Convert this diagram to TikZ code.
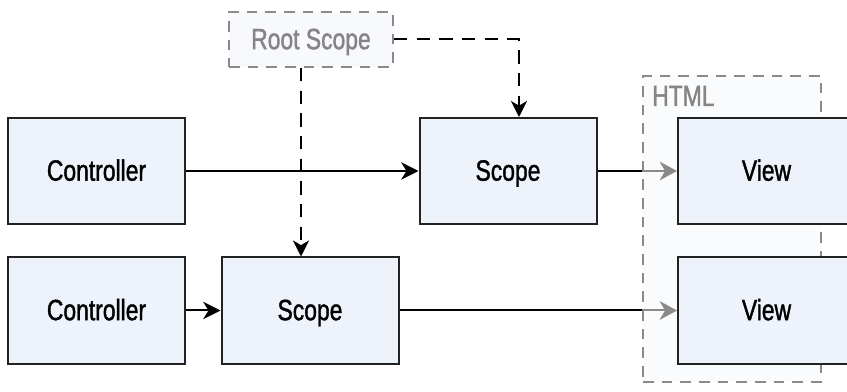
\documentclass[tikz,border=0pt]{standalone}
\usepackage{fontspec}
\setmainfont[FakeStretch=0.78,FakeBold=1.3]{Liberation Sans}
\usetikzlibrary{arrows.meta}
\definecolor{boxfill}{HTML}{EEF2FA}
\definecolor{boxline}{HTML}{222222}
\definecolor{softfill}{HTML}{F8F9FC}
\definecolor{htmlfill}{HTML}{FAFBFD}
\definecolor{graytext}{HTML}{858585}
\definecolor{grayline}{HTML}{8A8A8A}
\tikzset{
  box/.style={draw=boxline, fill=boxfill, line width=1.5pt, minimum width=132.75pt, minimum height=79.5pt, inner sep=0pt, font=\fontsize{22}{26}\selectfont, text=black, text height=14.5pt, text depth=0pt},
  rootbox/.style={draw=grayline, fill=softfill, line width=1.3pt, dash pattern=on 8pt off 6pt, minimum width=123pt, minimum height=41.25pt, inner sep=0pt, font=\fontsize{22}{26}\selectfont, text=graytext, text height=14.5pt, text depth=0pt},
  conn/.style={line width=1.5pt, draw=black, -{Stealth[length=13pt,width=13pt,inset=4pt]}},
  plainconn/.style={line width=1.5pt, draw=black},
  grayconn/.style={line width=1.5pt, draw=grayline, -{Stealth[length=13pt,width=14pt,inset=4pt]}},
  dasharrow/.style={line width=1.5pt, draw=black, dash pattern=on 10pt off 7pt, -{Stealth[length=12pt,width=12pt,inset=3.5pt]}},
}
\begin{document}
\begin{tikzpicture}[x=0.75pt,y=-0.75pt]
\useasboundingbox (0,0) rectangle (847,392);
% HTML container
\node[draw=grayline, fill=htmlfill, line width=1.3pt, dash pattern=on 8pt off 6pt, minimum width=133.5pt, minimum height=229.5pt, inner sep=0pt] (html) at (732,229) {};
\node[anchor=base west, font=\fontsize{22}{26}\selectfont, text=graytext, inner sep=0pt] (htmllabel) at (652,106) {HTML};
% boxes
\node[box] (ctrl1) at (96.5,171) {Controller};
\node[box] (ctrl2) at (96.5,310.5) {Controller};
\node[box] (scope1) at (508,171) {Scope};
\node[box] (scope2) at (310,310.5) {Scope};
\node[box] (view1) at (766.5,171) {View};
\node[box] (view2) at (766.5,310.5) {View};
\node[rootbox] (root) at (311,39.5) {Root Scope};
% connectors
\draw[conn] (ctrl1.east) -- (scope1.west);
\draw[conn] (ctrl2.east) -- (scope2.west);
\coordinate (h1) at (html.west |- scope1.east);
\coordinate (h2) at (html.west |- scope2.east);
\draw[plainconn] (scope1.east) -- (h1);
\draw[grayconn] (h1) -- (view1.west);
\draw[plainconn] (scope2.east) -- (h2);
\draw[grayconn] (h2) -- (view2.west);
\coordinate (dx1) at (519,0);
\coordinate (dx2) at (301,0);
\draw[dasharrow] (root.east) -| (scope1.north -| dx1);
\draw[dasharrow] (root.south -| dx2) -- (scope2.north -| dx2);
\end{tikzpicture}
\end{document}
